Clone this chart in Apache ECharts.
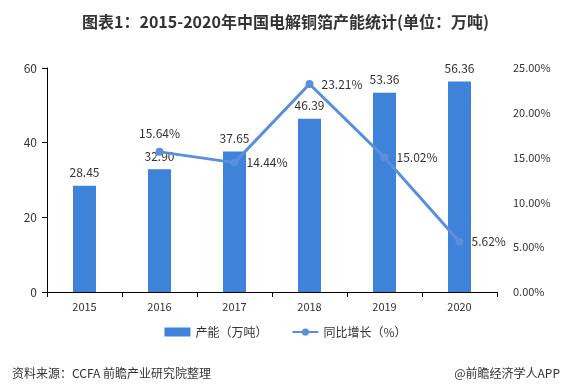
<!DOCTYPE html>
<html><head><meta charset="utf-8">
<script src="https://cdn.jsdelivr.net/npm/echarts@6/dist/echarts.min.js"></script>
<style>html,body{margin:0;padding:0;background:#fff}#c{width:571px;height:390px}</style>
</head><body><div id="c"></div>
<script>
const years = ['2015','2016','2017','2018','2019','2020'];
const capacity = [28.45, 32.90, 37.65, 46.39, 53.36, 56.36];
const growth = [null, 15.64, 14.44, 23.21, 15.02, 5.62];
const growthLabelPos = [null, 'top', 'right', 'right', 'right', 'right'];
const leftTicks = [0, 20, 40, 60];
const rightTicks = [0, 5, 10, 15, 20, 25];

const font = '"Microsoft YaHei","Noto Sans CJK SC",sans-serif';
const chart = echarts.init(document.getElementById('c'));
chart.setOption({
  animation: false,
  textStyle: {fontFamily: font},
  title: [{
    text: '图表1：2015-2020年中国电解铜箔产能统计(单位：万吨)',
    left: 'center', top: 9,
    textStyle: {fontSize: 16, fontWeight: 'bold', color: '#333', fontFamily: font}
  }, {
    text: '资料来源：CCFA 前瞻产业研究院整理', left: 7, top: 362,
    textStyle: {fontSize: 12, fontWeight: 'normal', color: '#333', fontFamily: font}
  }, {
    text: '@前瞻经济学人APP', right: 6, top: 362,
    textStyle: {fontSize: 12, fontWeight: 'normal', color: '#333', fontFamily: font}
  }],
  legend: {
    bottom: 47, left: 'center', itemGap: 24, itemWidth: 26, itemHeight: 9,
    textStyle: {fontSize: 12, color: '#333'},
    data: [{name: '产能（万吨）', icon: 'rect'}, {name: '同比增长（%）'}]
  },
  grid: {left: 47, right: 74, top: 68, bottom: 98},
  xAxis: {
    type: 'category', data: years,
    axisLine: {lineStyle: {color: '#000'}},
    axisTick: {show: true, length: 5, lineStyle: {color: '#000'}},
    axisLabel: {color: '#333', fontSize: 11, margin: 9}
  },
  yAxis: [{
    type: 'value', min: leftTicks[0], max: leftTicks[leftTicks.length-1], interval: 20,
    axisLine: {show: true, lineStyle: {color: '#000'}},
    axisTick: {show: true, length: 5, lineStyle: {color: '#000'}},
    splitLine: {show: false},
    axisLabel: {color: '#333', fontSize: 12, margin: 10}
  }, {
    type: 'value', min: rightTicks[0], max: rightTicks[rightTicks.length-1], interval: 5,
    axisLine: {show: false}, axisTick: {show: false}, splitLine: {show: false},
    axisLabel: {color: '#333', fontSize: 11, margin: 16, formatter: v => v.toFixed(2) + '%'}
  }],
  series: [{
    name: '产能（万吨）', type: 'bar', data: capacity, barWidth: 23,
    itemStyle: {color: '#3E82DA'},
    label: {show: true, position: 'top', distance: 7, color: '#333', fontSize: 12,
      formatter: p => p.value.toFixed(2)}
  }, {
    name: '同比增长（%）', type: 'line', yAxisIndex: 1,
    data: growth.map((v, i) => ({value: v, label: {position: growthLabelPos[i] || 'top'}})),
    symbol: 'circle', symbolSize: 8,
    lineStyle: {color: '#5B8FDC', width: 3},
    itemStyle: {color: '#5B8FDC'},
    label: {show: true, color: '#333', fontSize: 12, distance: 8,
      formatter: p => p.value == null ? '' : p.value.toFixed(2) + '%'}
  }]
});
</script></body></html>
